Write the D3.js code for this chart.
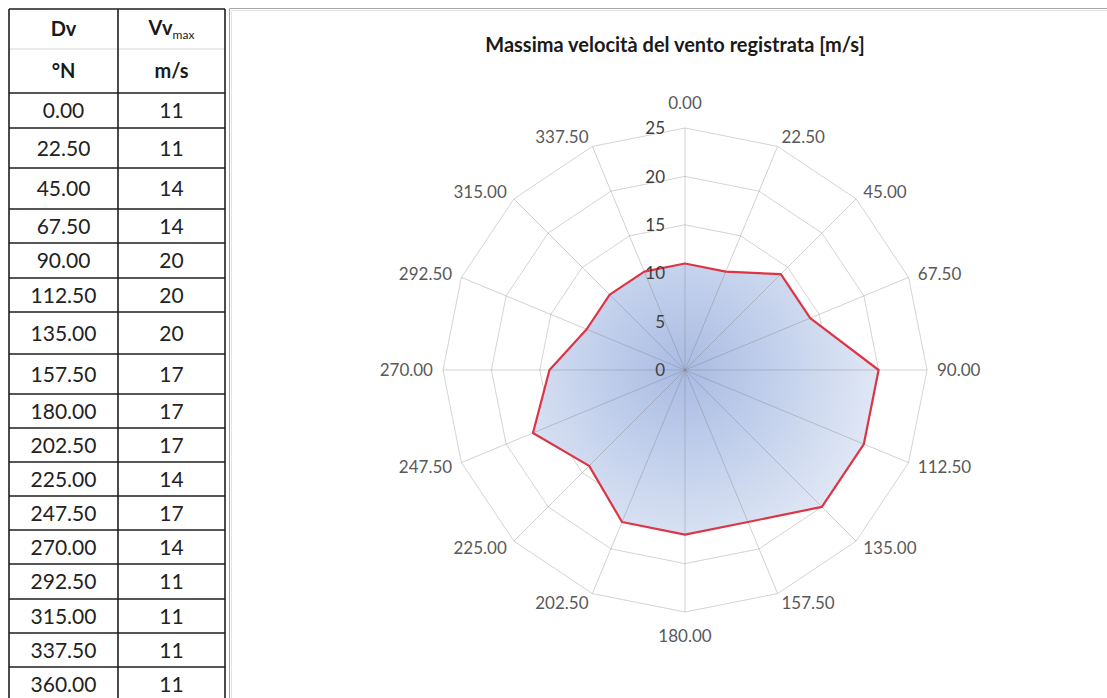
<!DOCTYPE html>
<html>
<head>
<meta charset="utf-8">
<script src="https://cdn.jsdelivr.net/npm/d3@7"></script>
<style>
  html, body { margin: 0; padding: 0; background: #ffffff; }
  svg { display: block; }
</style>
</head>
<body>
<svg id="chart" width="1107" height="698"></svg>
<script>
// Wind directions (degrees from north) on the radar spokes
const directions = [0, 22.5, 45, 67.5, 90, 112.5, 135, 157.5, 180, 202.5, 225, 247.5, 270, 292.5, 315, 337.5];
// Maximum recorded wind speed for each direction (m/s)
const maxSpeed = [11, 11, 14, 14, 20, 20, 20, 17, 17, 17, 14, 17, 14, 11, 11, 11];

// Values listed in the side table (360° repeats north)
const tableDirections = [0, 22.5, 45, 67.5, 90, 112.5, 135, 157.5, 180, 202.5, 225, 247.5, 270, 292.5, 315, 337.5, 360];
const tableSpeeds = [11, 11, 14, 14, 20, 20, 20, 17, 17, 17, 14, 17, 14, 11, 11, 11, 11];

// Radial axis ticks
const radialTicks = [0, 5, 10, 15, 20, 25];

const chartTitle = "Massima velocità del vento registrata [m/s]";

// ---- layout ----
const svg = d3.select("#chart");
const FONT = "Lato, 'Open Sans', sans-serif";
const cx = 685, cy = 370, R = 242;

const fmtDir = d3.format(".2f");

// ---------- side table ----------
const colEdges = [9, 118, 225];
const rowEdges = [9, 49, 93, 128, 168, 209, 243, 278, 312, 354, 394, 428, 462, 496, 530, 564, 599, 633, 667, 701];
const colCenters = [(colEdges[0] + colEdges[1]) / 2, (colEdges[1] + colEdges[2]) / 2];

const table = svg.append("g").attr("class", "table");

// horizontal rules
rowEdges.forEach((y, i) => {
  table.append("line")
    .attr("x1", colEdges[0]).attr("x2", colEdges[2])
    .attr("y1", y).attr("y2", y)
    .attr("stroke", i === 1 ? "#d6d6d6" : "#1e1e1e")
    .attr("stroke-width", i === 1 ? 1 : 1.6);
});
// vertical rules
colEdges.forEach(x => {
  table.append("line")
    .attr("x1", x).attr("x2", x)
    .attr("y1", rowEdges[0]).attr("y2", 698)
    .attr("stroke", "#1e1e1e").attr("stroke-width", 1.6);
});

const rowMid = i => (rowEdges[i] + rowEdges[i + 1]) / 2;

// header row 1: Dv | Vv_max
table.append("text")
  .attr("x", colCenters[0]).attr("y", rowMid(0)).attr("dy", "0.36em")
  .attr("text-anchor", "middle")
  .style("font-family", FONT).style("font-size", "20px").style("font-weight", "700")
  .attr("fill", "#1a1a1a").text("Dv");
const vv = table.append("text")
  .attr("x", colCenters[1]).attr("y", rowMid(0)).attr("dy", "0.36em")
  .attr("text-anchor", "middle")
  .style("font-family", FONT).style("font-weight", "700")
  .attr("fill", "#1a1a1a");
vv.append("tspan").style("font-size", "20px").text("Vv");
vv.append("tspan").style("font-size", "12px").style("font-weight", "400").attr("dy", "4").text("max");

// header row 2: units
table.append("text")
  .attr("x", colCenters[0]).attr("y", rowMid(1)).attr("dy", "0.36em")
  .attr("text-anchor", "middle")
  .style("font-family", FONT).style("font-size", "20px").style("font-weight", "700")
  .attr("fill", "#1a1a1a").text("°N");
table.append("text")
  .attr("x", colCenters[1]).attr("y", rowMid(1)).attr("dy", "0.36em")
  .attr("text-anchor", "middle")
  .style("font-family", FONT).style("font-size", "20px").style("font-weight", "700")
  .attr("fill", "#1a1a1a").text("m/s");

// data rows
tableDirections.forEach((d, i) => {
  const y = rowMid(i + 2);
  table.append("text")
    .attr("x", colCenters[0]).attr("y", y).attr("dy", "0.36em")
    .attr("text-anchor", "middle")
    .style("font-family", FONT).style("font-size", "21px")
    .attr("fill", "#222").text(fmtDir(d));
  table.append("text")
    .attr("x", colCenters[1]).attr("y", y).attr("dy", "0.36em")
    .attr("text-anchor", "middle")
    .style("font-family", FONT).style("font-size", "21px")
    .attr("fill", "#222").text(tableSpeeds[i]);
});

// ---------- chart area frame ----------
svg.append("path")
  .attr("d", "M231.5,698 V10.5 H1107")
  .attr("fill", "none").attr("stroke", "#e2e2e2").attr("stroke-width", 1);
svg.append("path")
  .attr("d", "M229.5,698 V8.5 H1107")
  .attr("fill", "none").attr("stroke", "#a6a6a6").attr("stroke-width", 1);

// title
svg.append("text")
  .attr("x", 675).attr("y", 45).attr("dy", "0.36em")
  .attr("text-anchor", "middle")
  .style("font-family", FONT).style("font-size", "20px").style("font-weight", "700")
  .attr("fill", "#1a1a1a")
  .text(chartTitle);

// ---------- radar ----------
const rScale = d3.scaleLinear().domain([0, 25]).range([0, R]);
const aScale = d3.scaleLinear().domain([0, 360]).range([0, 2 * Math.PI]);

const g = svg.append("g").attr("transform", `translate(${cx},${cy})`);

const defs = svg.append("defs");
const grad = defs.append("radialGradient")
  .attr("id", "fillGrad")
  .attr("gradientUnits", "userSpaceOnUse")
  .attr("cx", 0).attr("cy", 0).attr("r", 200);
grad.append("stop").attr("offset", "0%").attr("stop-color", "#a8bbe3");
grad.append("stop").attr("offset", "100%").attr("stop-color", "#e2e9f6");

const ring = d3.lineRadial()
  .angle(d => aScale(d))
  .curve(d3.curveLinearClosed);

// value gridlines (polygons)
radialTicks.filter(t => t > 0).forEach(t => {
  g.append("path")
    .attr("d", ring.radius(() => rScale(t))(directions))
    .attr("fill", "none")
    .attr("stroke", "#d4d4d4")
    .attr("stroke-width", 1);
});

// series area
const area = d3.lineRadial()
  .angle((d, i) => aScale(directions[i]))
  .radius(d => rScale(d))
  .curve(d3.curveLinearClosed);

g.append("path")
  .attr("d", area(maxSpeed))
  .attr("fill", "url(#fillGrad)")
  .attr("stroke", "none");

// spokes
directions.forEach(d => {
  const a = aScale(d);
  g.append("line")
    .attr("x1", 0).attr("y1", 0)
    .attr("x2", rScale(25) * Math.sin(a))
    .attr("y2", -rScale(25) * Math.cos(a))
    .attr("stroke", "#7f7f7f")
    .attr("stroke-opacity", 0.36)
    .attr("stroke-width", 1);
});

// series outline
g.append("path")
  .attr("d", area(maxSpeed))
  .attr("fill", "none")
  .attr("stroke", "#dc3545")
  .attr("stroke-width", 2.2)
  .attr("stroke-linejoin", "round");

// radial tick labels
radialTicks.forEach(t => {
  g.append("text")
    .attr("x", -20).attr("y", -rScale(t)).attr("dy", "0.36em")
    .attr("text-anchor", "end")
    .style("font-family", FONT).style("font-size", "17px")
    .attr("fill", "#404040")
    .text(t);
});

// direction labels
directions.forEach(d => {
  const a = aScale(d);
  const s = Math.sin(a), c = Math.cos(a);
  const px = (R + 10) * s, py = -(R + 10) * c;
  let anchor, y = py;
  if (Math.abs(s) < 0.01) {
    anchor = "middle";
    y = c > 0 ? py - 15 : py + 14;
  } else {
    anchor = s > 0 ? "start" : "end";
  }
  g.append("text")
    .attr("x", px).attr("y", y).attr("dy", "0.36em")
    .attr("text-anchor", anchor)
    .style("font-family", FONT).style("font-size", "17px")
    .attr("fill", "#595959")
    .text(fmtDir(d));
});
</script>
</body>
</html>
